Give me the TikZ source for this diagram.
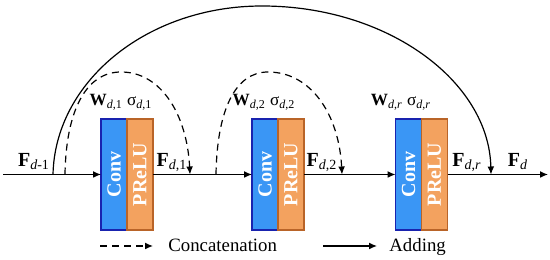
\documentclass[tikz,border=0pt]{standalone}
\usepackage{fontspec}
\setmainfont{Liberation Serif}
\usetikzlibrary{arrows.meta, positioning}

\definecolor{convblue}{RGB}{58,150,245}
\definecolor{convedge}{RGB}{25,35,175}
\definecolor{preluorange}{RGB}{243,162,95}
\definecolor{preluedge}{RGB}{185,100,40}

\newcommand{\Fsub}[1]{\textbf{F}\textsubscript{#1}}

\begin{document}
\begin{tikzpicture}[
    x=0.5pt, y=-0.5pt,
    font=\fontsize{10}{12}\selectfont,
    conv/.style={draw=convedge, fill=convblue, line width=0.6pt,
                 minimum width=13pt, minimum height=55.5pt,
                 inner sep=0pt, outer sep=0pt, text=white,
                 font=\fontsize{10}{12}\selectfont\bfseries},
    prelu/.style={conv, draw=preluedge, fill=preluorange},
    flow/.style={-{Latex[length=4pt, width=3.4pt]}, line width=0.6pt},
    skip/.style={flow, dash pattern=on 3.5pt off 2.5pt},
    lbl/.style={anchor=base, inner sep=0pt},
    wlbl/.style={lbl, font=\fontsize{8.6}{10}\selectfont}
  ]
  \useasboundingbox (0,0) rectangle (550,260);

  % blocks
  \node[conv] (conv1) at (114,174.5) {\rotatebox{90}{Conv}};
  \node[prelu, right=0pt of conv1] (prelu1) {\rotatebox{90}{PReLU}};
  \node[conv] (conv2) at (265,174.5) {\rotatebox{90}{Conv}};
  \node[prelu, right=0pt of conv2] (prelu2) {\rotatebox{90}{PReLU}};
  \node[conv] (conv3) at (408.5,174.5) {\rotatebox{90}{Conv}};
  \node[prelu, right=0pt of conv3] (prelu3) {\rotatebox{90}{PReLU}};

  \coordinate (in) at (3,174.5);
  \coordinate (out) at (548,174.5);
  \coordinate (a0) at (53,174.5);
  \coordinate (atop) at (262,6);
  \coordinate (a1) at (491,174.5);
  \coordinate (b0) at (65,174.5);
  \coordinate (btop) at (121,72);
  \coordinate (b1) at (190,174.5);
  \coordinate (c0) at (216,174.5);
  \coordinate (ctop) at (268,72);
  \coordinate (c1) at (342,174.5);

  \draw[flow] (in) -- (conv1);
  \draw[flow] (prelu1) -- (conv2);
  \draw[flow] (prelu2) -- (conv3);
  \draw[flow] (prelu3) -- (out);

  % skip connections
  \draw[flow] (a0) .. controls +(2,-93) and +(-115,0) .. (atop)
              .. controls +(126,0) and +(-2,-93) .. (a1);
  \draw[skip] (b0) .. controls +(1,-64) and +(-35,0) .. (btop)
              .. controls +(40,0) and +(-3,-60) .. (b1);
  \draw[skip] (c0) .. controls +(1,-64) and +(-33,0) .. (ctop)
              .. controls +(43,0) and +(-3,-60) .. (c1);

  % labels
  \node[lbl] (f0) at (34,167) {\Fsub{\textit{d}-1}};
  \node[lbl] (f1) at (172,167) {\Fsub{\textit{d},1}};
  \node[lbl] (f2) at (322,167) {\Fsub{\textit{d},2}};
  \node[lbl] (fr) at (467,167) {\Fsub{\textit{d},\textit{r}}};
  \node[lbl] (fd) at (518,167) {\Fsub{\textit{d}}};
  \node[wlbl] (w1) at (121,106) {\textbf{W}\textsubscript{\textit{d},1} σ\textsubscript{\textit{d},1}};
  \node[wlbl] (w2) at (264,106) {\textbf{W}\textsubscript{\textit{d},2} σ\textsubscript{\textit{d},2}};
  \node[wlbl] (wr) at (401,106) {\textbf{W}\textsubscript{\textit{d},\textit{r}} σ\textsubscript{\textit{d},\textit{r}}};

  % legend
  \coordinate (k0) at (100,246);
  \coordinate (k1) at (153,246);
  \coordinate (k2) at (323,246);
  \coordinate (k3) at (377,246);
  \draw[skip] (k0) -- (k1);
  \draw[flow] (k2) -- (k3);
  \node[anchor=base west, inner sep=0pt, font=\fontsize{9.4}{11}\selectfont]
    (cat) at (168,252) {Concatenation};
  \node[anchor=base west, inner sep=0pt, font=\fontsize{9.4}{11}\selectfont]
    (add) at (389,252) {Adding};
\end{tikzpicture}
\end{document}
